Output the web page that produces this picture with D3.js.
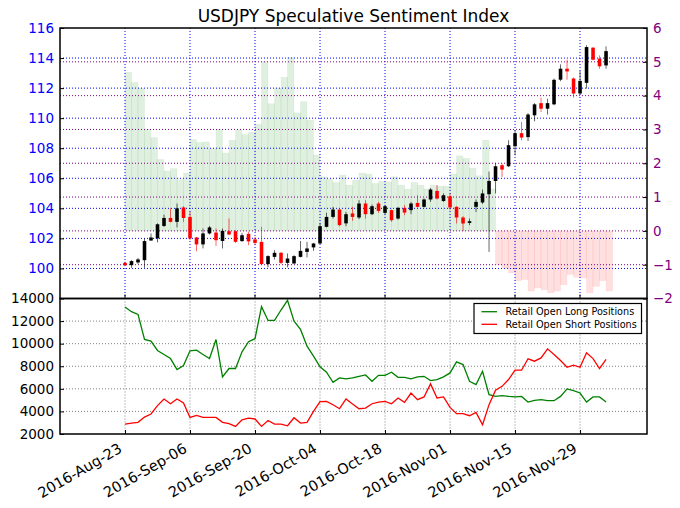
<!DOCTYPE html>
<html><head><meta charset="utf-8">
<script src="https://cdn.jsdelivr.net/npm/d3@7"></script>
<style>
html,body{margin:0;padding:0;background:#fff;}
svg{display:block;font-family:"DejaVu Sans",sans-serif;}
</style></head>
<body><svg id="chart" width="680" height="508"></svg>
<script>
// ---- DATA (trading-day index 0 = 2016-Aug-23) ----
const tickIndex = [0, 10, 20, 30, 40, 50, 60, 70];
const tickLabels = ["2016-Aug-23","2016-Sep-06","2016-Sep-20","2016-Oct-04","2016-Oct-18","2016-Nov-01","2016-Nov-15","2016-Nov-29"];
const priceTicks = [100,102,104,106,108,110,112,114,116];
const ssiTicks = [-2,-1,0,1,2,3,4,5,6];
const posTicks = [2000,4000,6000,8000,10000,12000,14000];

const open  = [100.37,100.22,100.40,100.55,101.86,102.00,102.83,103.36,103.10,104.06,
               103.43,102.06,101.60,102.33,102.39,101.83,102.48,102.48,101.82,102.30,
               101.93,101.77,100.29,100.77,101.04,100.37,100.33,100.77,101.10,101.40,
               101.66,102.77,103.43,103.92,103.00,103.66,103.39,104.32,103.61,104.32,
               103.70,103.88,103.32,104.03,103.88,104.36,104.10,104.59,105.16,104.49,
               104.80,104.10,103.39,103.03,104.10,104.39,104.94,105.82,106.87,106.80,
               108.13,109.00,108.74,110.19,111.00,110.63,110.92,112.56,113.29,112.64,
               111.64,112.35,114.69,113.96,113.51];
const close = [100.22,100.49,100.60,101.82,102.06,102.94,103.36,103.10,104.00,103.36,
               102.00,101.60,102.33,102.73,101.88,102.50,102.26,101.77,102.21,101.80,
               101.70,100.29,100.82,101.04,100.37,100.66,100.82,101.17,101.33,101.66,
               102.81,103.43,103.92,102.88,103.61,103.43,104.32,103.61,104.14,103.83,
               104.14,103.21,104.03,103.72,104.32,104.10,104.59,105.25,104.65,104.87,
               104.06,103.39,102.99,103.14,104.43,104.99,105.82,106.80,106.58,108.20,
               109.00,108.71,110.24,110.92,110.63,111.00,112.55,113.29,113.11,111.64,
               112.48,114.73,113.89,113.45,114.46];
const high  = [100.45,100.55,100.70,102.00,102.33,103.00,103.58,104.00,104.32,104.14,
               103.76,102.10,102.66,102.83,102.66,102.66,103.32,102.55,102.37,102.45,
               102.10,102.77,100.88,101.22,101.10,101.00,100.88,101.83,101.77,101.70,
               102.99,103.70,104.10,103.94,103.76,104.10,104.54,104.54,104.25,104.43,
               104.20,103.92,104.10,104.21,104.43,104.87,104.65,105.36,105.54,104.99,
               104.99,104.14,103.48,103.32,104.59,105.25,106.45,107.03,106.98,108.53,
               109.20,109.75,110.34,111.00,111.37,111.30,112.64,113.58,113.89,112.71,
               113.15,114.85,114.73,114.18,114.78];
const low   = [100.15,100.04,100.30,100.04,101.83,101.73,102.76,103.06,102.73,103.10,
               101.88,101.15,101.33,102.26,101.50,101.33,102.21,101.70,101.77,101.55,
               101.55,100.22,100.07,100.60,100.29,100.07,100.30,100.73,100.73,101.17,
               101.62,102.73,103.32,102.81,102.81,103.17,103.28,103.32,103.55,103.70,
               103.60,103.10,103.25,103.54,103.61,104.06,104.05,104.43,104.59,104.43,
               103.92,102.99,102.50,102.88,103.76,104.29,101.10,104.99,106.09,106.75,
               107.53,108.53,108.48,109.79,110.41,110.24,110.86,112.46,112.56,111.37,
               111.59,111.97,113.85,113.29,113.29];
const ssi = [4.69,4.39,4.22,3.00,2.76,2.11,1.77,1.84,1.52,1.71,
             2.70,2.61,2.63,2.43,3.00,2.30,2.68,2.99,2.85,2.92,
             3.15,5.01,3.76,4.22,4.54,5.13,3.49,3.82,3.28,2.24,
             1.60,1.53,1.43,1.65,1.35,1.50,1.71,1.68,1.40,1.47,
             1.45,1.60,1.35,1.23,1.43,1.35,1.24,1.35,1.32,1.32,
             1.68,2.22,2.14,1.86,1.63,2.68,1.24,-1.00,-1.10,-1.24,
             -1.47,-1.44,-1.78,-1.69,-1.74,-1.83,-1.78,-1.59,-1.29,-1.37,
             -1.39,-1.83,-1.64,-1.47,-1.78];
const longPos = [13244,12830,12590,10370,10220,9400,9040,8680,7710,8060,
                 9370,9420,9040,8680,10370,7060,7800,7800,9280,10170,
                 10440,13280,12060,12060,12980,13840,12000,11260,9780,8890,
                 7950,7470,6580,6970,6880,6970,7110,7230,6670,7200,
                 7200,7470,7020,7020,6880,7060,7110,6730,6820,7060,
                 7410,8390,8150,6670,6370,7560,5480,5330,5400,5330,
                 5280,5330,4830,4980,5040,4950,4950,5330,5990,5840,
                 5630,4830,5280,5280,4830];
const shortPos = [2880,2970,3030,3500,3770,4510,5100,4680,5100,4750,
                  3470,3640,3470,3470,3470,3030,2910,2670,3260,3410,
                  3330,2670,3200,2880,2880,2730,3440,2970,3030,4000,
                  4860,4890,4590,4240,5100,4660,4240,4300,4680,4830,
                  4890,4680,5190,4800,5630,5040,5280,6440,5190,5280,
                  4360,3800,3800,3620,3910,2820,4600,5870,6220,6820,
                  7650,7650,8660,8450,8740,9540,9040,8510,7910,8090,
                  7910,9190,8680,7800,8600];

// ---- LAYOUT ----
const svg = d3.select("#chart");
const L = 60, R = 647, T1 = 28, B1 = 298.5, T2 = 298.5, B2 = 434;
const fs = 13.5;

const x = d3.scaleLinear().domain([-10, 80.3]).range([L, R]);
const yP = d3.scaleLinear().domain([98, 116]).range([B1, T1]);
const yS = d3.scaleLinear().domain([-2, 6]).range([B1, T1]);
const yB = d3.scaleLinear().domain([2000, 14000]).range([B2, T2]);

const dot = "1,2";

// title
svg.append("text").attr("x", (L + R) / 2).attr("y", 22).attr("text-anchor", "middle")
  .attr("font-size", 17).attr("fill", "#000").text("USDJPY Speculative Sentiment Index");

// ---- TOP PANEL ----
const topG = svg.append("g");
const n = ssi.length;
const idx = d3.range(n);

// sentiment bars (right axis)
topG.append("g").selectAll("rect").data(idx).join("rect")
  .attr("x", i => x(i))
  .attr("width", x(1) - x(0))
  .attr("y", i => Math.min(yS(ssi[i]), yS(0)))
  .attr("height", i => Math.abs(yS(ssi[i]) - yS(0)))
  .attr("fill", i => ssi[i] >= 0 ? "#008000" : "#ff0000")
  .attr("fill-opacity", 0.12)
  .attr("stroke", i => ssi[i] >= 0 ? "#008000" : "#ff0000")
  .attr("stroke-opacity", 0.08)
  .attr("stroke-width", 0.6);

// grid lines
const gTop = topG.append("g");
gTop.selectAll(".vg").data(tickIndex).join("line")
  .attr("x1", d => x(d)).attr("x2", d => x(d)).attr("y1", T1).attr("y2", B1)
  .attr("stroke", "#0000ff").attr("stroke-dasharray", dot).attr("stroke-width", 1);
gTop.selectAll(".hg").data(priceTicks.filter(d => d < 116)).join("line")
  .attr("x1", L).attr("x2", R).attr("y1", d => yP(d)).attr("y2", d => yP(d))
  .attr("stroke", "#0000ff").attr("stroke-dasharray", dot).attr("stroke-width", 1);
gTop.selectAll(".sg").data(ssiTicks.filter(d => d > -2 && d < 6)).join("line")
  .attr("x1", L).attr("x2", R).attr("y1", d => yS(d)).attr("y2", d => yS(d))
  .attr("stroke", "#800080").attr("stroke-dasharray", dot).attr("stroke-width", 1);

// candles
const cg = topG.append("g");
const bw = (x(1) - x(0)) * 0.55;
cg.selectAll("line").data(idx).join("line")
  .attr("x1", i => x(i)).attr("x2", i => x(i))
  .attr("y1", i => yP(high[i])).attr("y2", i => yP(low[i]))
  .attr("stroke", i => close[i] >= open[i] ? "#000" : "#ff0000")
  .attr("stroke-opacity", 0.6).attr("stroke-width", 1);
cg.selectAll("rect").data(idx).join("rect")
  .attr("x", i => x(i) - bw / 2).attr("width", bw)
  .attr("y", i => yP(Math.max(open[i], close[i])))
  .attr("height", i => Math.max(1, Math.abs(yP(open[i]) - yP(close[i]))))
  .attr("fill", i => close[i] >= open[i] ? "#000" : "#ff0000");

// axes top
const axL = d3.axisLeft(yP).tickValues(priceTicks.filter(d => d >= 100)).tickSize(-4).tickPadding(6);
const aL = topG.append("g").attr("transform", `translate(${L},0)`).call(axL);
aL.selectAll("text").attr("fill", "#0000ff").attr("font-size", fs).attr("font-family", "DejaVu Sans");
const axR = d3.axisRight(yS).tickValues(ssiTicks).tickSize(-4).tickPadding(6)
  .tickFormat(d => d < 0 ? "\u2212" + Math.abs(d) : d);
const aR = topG.append("g").attr("transform", `translate(${R},0)`).call(axR);
aR.selectAll("text").attr("fill", "#800080").attr("font-size", fs).attr("font-family", "DejaVu Sans");
[aL, aR].forEach(a => { a.select(".domain").remove(); a.selectAll("line").attr("stroke", "#000"); });

topG.append("g").selectAll("line").data(tickIndex).join("line")
  .attr("x1", d => x(d)).attr("x2", d => x(d)).attr("y1", B1).attr("y2", B1 - 4).attr("stroke", "#000");
topG.append("rect").attr("x", L).attr("y", T1).attr("width", R - L).attr("height", B1 - T1)
  .attr("fill", "none").attr("stroke", "#000").attr("stroke-width", 1.5);

// ---- BOTTOM PANEL ----
const bot = svg.append("g");
bot.selectAll(".vg2").data(tickIndex).join("line")
  .attr("x1", d => x(d)).attr("x2", d => x(d)).attr("y1", T2).attr("y2", B2)
  .attr("stroke", "#808080").attr("stroke-dasharray", dot).attr("stroke-width", 1);
bot.selectAll(".hg2").data(posTicks.filter(d => d > 2000 && d < 14000)).join("line")
  .attr("x1", L).attr("x2", R).attr("y1", d => yB(d)).attr("y2", d => yB(d))
  .attr("stroke", "#808080").attr("stroke-dasharray", dot).attr("stroke-width", 1);

const line = arr => d3.line().x((d, i) => x(i)).y(d => yB(d))(arr);
bot.append("path").attr("d", line(longPos)).attr("fill", "none").attr("stroke", "#008000").attr("stroke-width", 1.3);
bot.append("path").attr("d", line(shortPos)).attr("fill", "none").attr("stroke", "#ff0000").attr("stroke-width", 1.3);

const axB = d3.axisLeft(yB).tickValues(posTicks).tickSize(-4).tickPadding(6).tickFormat(d3.format("d"));
const aB = bot.append("g").attr("transform", `translate(${L},0)`).call(axB);
aB.select(".domain").remove();
aB.selectAll("line").attr("stroke", "#000");
aB.selectAll("text").attr("fill", "#000").attr("font-size", fs).attr("font-family", "DejaVu Sans");

const axX = d3.axisBottom(x).tickValues(tickIndex).tickSize(-4).tickFormat((d, i) => tickLabels[i]);
const aX = bot.append("g").attr("transform", `translate(0,${B2})`).call(axX);
aX.select(".domain").remove();
aX.selectAll("line").attr("stroke", "#000");
aX.selectAll("text").attr("font-size", 14.5).attr("font-family", "DejaVu Sans").attr("fill", "#000")
  .attr("text-anchor", "end").attr("y", 0).attr("dy", 0)
  .attr("transform", "translate(-2.5,17.5) rotate(-30)");

bot.append("rect").attr("x", L).attr("y", T2).attr("width", R - L).attr("height", B2 - T2)
  .attr("fill", "none").attr("stroke", "#000").attr("stroke-width", 1.5);

// legend
const lg = bot.append("g");
lg.append("rect").attr("x", 474).attr("y", 303.5).attr("width", 167.5).attr("height", 30)
  .attr("fill", "#fff").attr("stroke", "#000").attr("stroke-width", 1.2);
const items = [["Retail Open Long Positions", "#008000"], ["Retail Open Short Positions", "#ff0000"]];
items.forEach((it, k) => {
  const yy = 311.7 + k * 12.6;
  lg.append("line").attr("x1", 481.5).attr("x2", 497).attr("y1", yy).attr("y2", yy)
    .attr("stroke", it[1]).attr("stroke-width", 1.3);
  lg.append("text").attr("x", 505.5).attr("y", yy).attr("dy", "0.35em")
    .attr("font-size", 9.7).attr("fill", "#000").text(it[0]);
});
</script>
</body></html>
